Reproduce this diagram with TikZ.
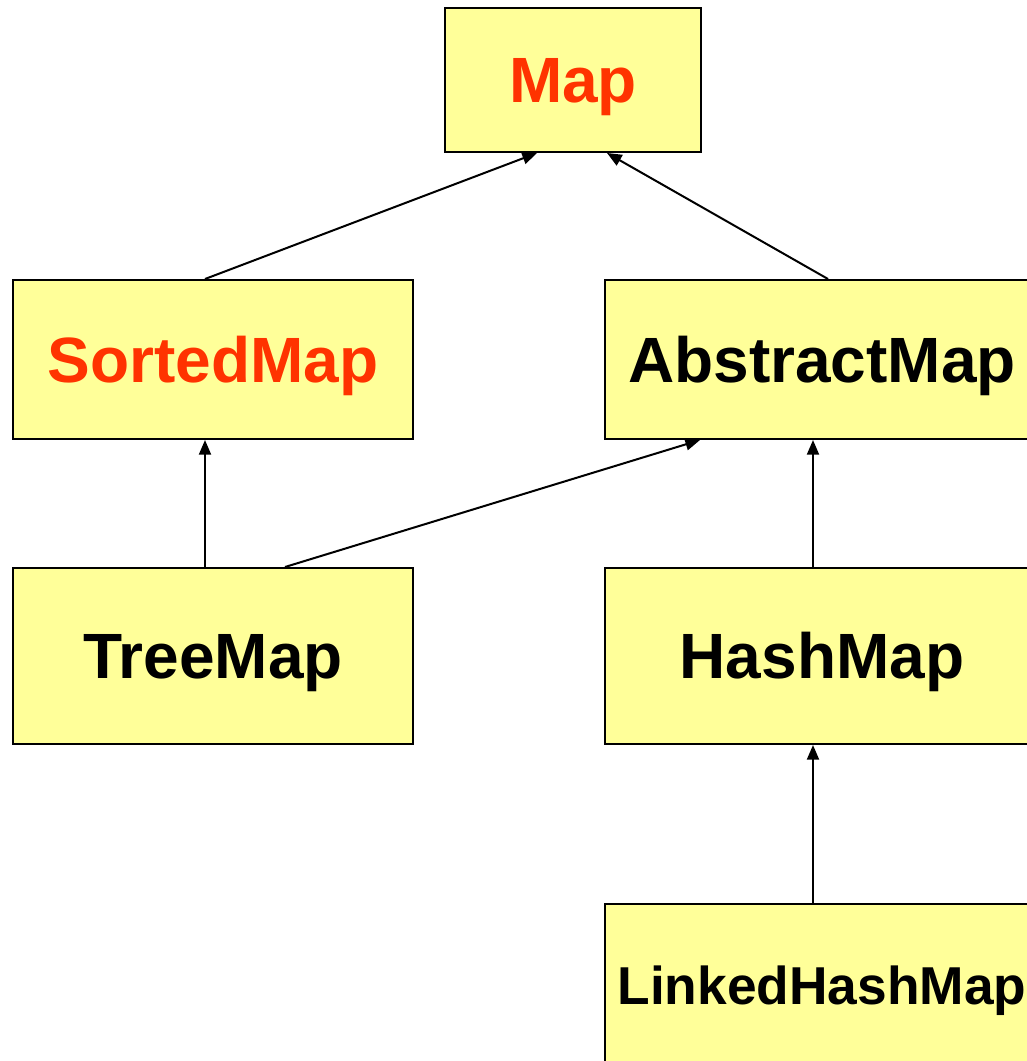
\documentclass[tikz,border=0pt]{standalone}
\usepackage{fontspec}
\setmainfont{Liberation Sans}
\usetikzlibrary{arrows.meta}
\definecolor{boxfill}{HTML}{FFFF99}
\definecolor{ifacered}{HTML}{FF3300}
\begin{document}
\begin{tikzpicture}[x=0.75pt,y=-0.75pt,
  cls/.style={draw=black,fill=boxfill,line width=1.5pt,rectangle,inner sep=0pt,
    font=\fontsize{48}{56}\selectfont\bfseries,text height=34.4pt,text depth=0pt},
  small/.style={font=\fontsize{40}{48}\selectfont\bfseries,text height=28.6pt},
  iface/.style={text=ifacered},
  inh/.style={draw=black,line width=1.5pt,-{Triangle[length=11pt,width=9pt]}}]
\useasboundingbox (0,0) rectangle (1027,1061);
\begin{scope}
\clip (0,0) rectangle (1027,1061);
\node[cls,iface,minimum width={256*0.75pt},minimum height={144*0.75pt}] (map) at (573,80) {Map};
\node[cls,iface,minimum width={400*0.75pt},minimum height={159*0.75pt}] (sorted) at (213,359.5) {SortedMap};
\node[cls,minimum width={434*0.75pt},minimum height={159*0.75pt}] (abstract) at (822,359.5) {AbstractMap};
\node[cls,minimum width={400*0.75pt},minimum height={176*0.75pt}] (tree) at (213,656) {TreeMap};
\node[cls,minimum width={434*0.75pt},minimum height={176*0.75pt}] (hash) at (822,656) {HashMap};
\node[cls,small,minimum width={434*0.75pt},minimum height={162*0.75pt}] (linked) at (822,985) {LinkedHashMap};
\end{scope}
\draw[inh] (205,0 |- sorted.north) -- (537,0 |- map.south);
\draw[inh] (828,0 |- abstract.north) -- (607,0 |- map.south);
\draw[inh] (205,0 |- tree.north) -- (205,0 |- sorted.south);
\draw[inh] (285,0 |- tree.north) -- (700,0 |- abstract.south);
\draw[inh] (813,0 |- hash.north) -- (813,0 |- abstract.south);
\draw[inh] (813,0 |- linked.north) -- (813,0 |- hash.south);
\end{tikzpicture}
\end{document}
